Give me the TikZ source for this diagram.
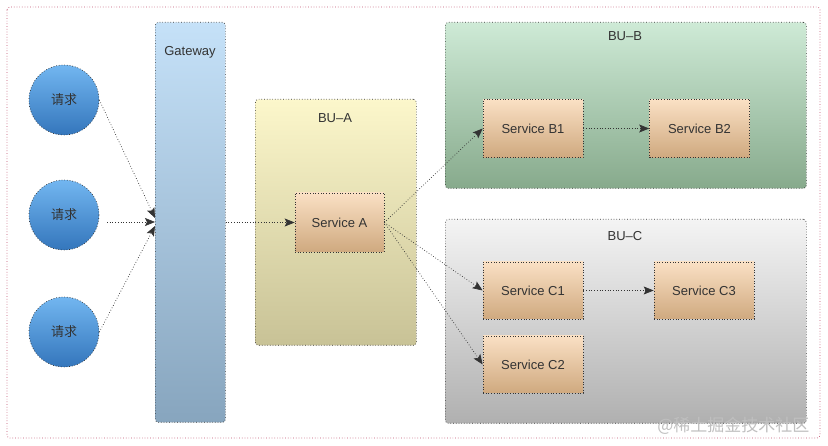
\documentclass[tikz,border=0pt]{standalone}
\usepackage{fontspec}
\setmainfont{Liberation Sans}
\newfontfamily\cjk{Noto Sans CJK SC}
\usetikzlibrary{arrows.meta}
\definecolor{txt}{HTML}{333333}
\definecolor{ln}{HTML}{333333}
\definecolor{frame}{HTML}{C0506E}
\tikzset{
  dotb/.style={draw=ln, dotted, line width=0.7pt},
  svc/.style={dotb, top color=svctop, bottom color=svcbot, minimum width=100pt, minimum height=58pt, inner sep=0pt, text=txt, font=\fontsize{13}{15}\selectfont},
  bu/.style={dotb, rounded corners=3pt},
  req/.style={circle, dotb, top color=reqtop, bottom color=reqbot, minimum size=70pt, inner sep=0pt, text=txt, font=\cjk\fontsize{13}{15}\selectfont},
  lbl/.style={text=txt, font=\fontsize{13}{15}\selectfont},
  con/.style={draw=ln, dotted, line width=0.7pt, -{Stealth[length=10pt,width=8pt,inset=2pt]}}
}
\definecolor{svctop}{HTML}{FAE0C4}
\definecolor{svcbot}{HTML}{CFA97F}
\definecolor{reqtop}{HTML}{72B6F0}
\definecolor{reqbot}{HTML}{3476BC}
\begin{document}
\begin{tikzpicture}[x=1pt,y=-1pt]
\useasboundingbox (0,0) rectangle (828,446);
% outer frame
\draw[draw=frame, dotted, line width=0.7pt, rounded corners=3pt] (7,7) rectangle (820,438);
% gateway
\node[bu, top color={rgb,255:red,197;green,225;blue,248}, bottom color={rgb,255:red,135;green,165;blue,190}, minimum width=70pt, minimum height=400pt, inner sep=0pt, anchor=north west] (gw) at (155,22) {};
\node[lbl] (gwl) at (190,52) {Gateway};
% BU-A
\node[bu, top color={rgb,255:red,252;green,247;blue,203}, bottom color={rgb,255:red,200;green,194;blue,150}, minimum width=161pt, minimum height=246pt, inner sep=0pt, anchor=north west] (bua) at (255,99) {};
\node[lbl] (bual) at (335,118) {BU–A};
% BU-B
\node[bu, top color={rgb,255:red,206;green,234;blue,214}, bottom color={rgb,255:red,135;green,170;blue,140}, minimum width=361pt, minimum height=166pt, inner sep=0pt, anchor=north west] (bub) at (445,22) {};
\node[lbl] (bubl) at (625,36) {BU–B};
% BU-C
\node[bu, top color={rgb,255:red,244;green,244;blue,244}, bottom color={rgb,255:red,176;green,176;blue,176}, minimum width=361pt, minimum height=204pt, inner sep=0pt, anchor=north west] (buc) at (445,219) {};
\node[lbl] (bucl) at (625,236) {BU–C};
% requests
\node[req] (r1) at (64,100) {请求};
\node[req] (r2) at (64,215) {请求};
\node[req] (r3) at (64,332) {请求};
% services
\node[svc, minimum width=89pt, minimum height=59pt] (sa) at (339.5,222.5) {Service A};
\node[svc] (b1) at (533,128.5) {Service B1};
\node[svc] (b2) at (699.5,128.5) {Service B2};
\node[svc, minimum height=57pt] (c1) at (533,290.5) {Service C1};
\node[svc, minimum height=57pt] (c3) at (704,290.5) {Service C3};
\node[svc, minimum height=57pt] (c2) at (533,364.5) {Service C2};
% connectors
\coordinate (g1) at (155,218);
\coordinate (g2) at (155,222);
\coordinate (g3) at (155,226);
\coordinate (r2o) at (107,222);
\draw[con] (r1.east) -- (g1);
\draw[con] (r2o) -- (g2);
\draw[con] (r3.east) -- (g3);
\draw[con] (gw.east |- sa.west) -- (sa.west);
\draw[con] (sa.east) -- (b1.west);
\draw[con] (sa.east) -- (c1.west);
\draw[con] (sa.east) -- (c2.west);
\draw[con] (b1.east) -- (b2.west);
\draw[con] (c1.east) -- (c3.west);
% watermark
\node[text=white!50!gray, font=\cjk\fontsize{17}{19}\selectfont, anchor=east] (wm) at (813,426) {@稀土掘金技术社区};
\end{tikzpicture}
\end{document}
